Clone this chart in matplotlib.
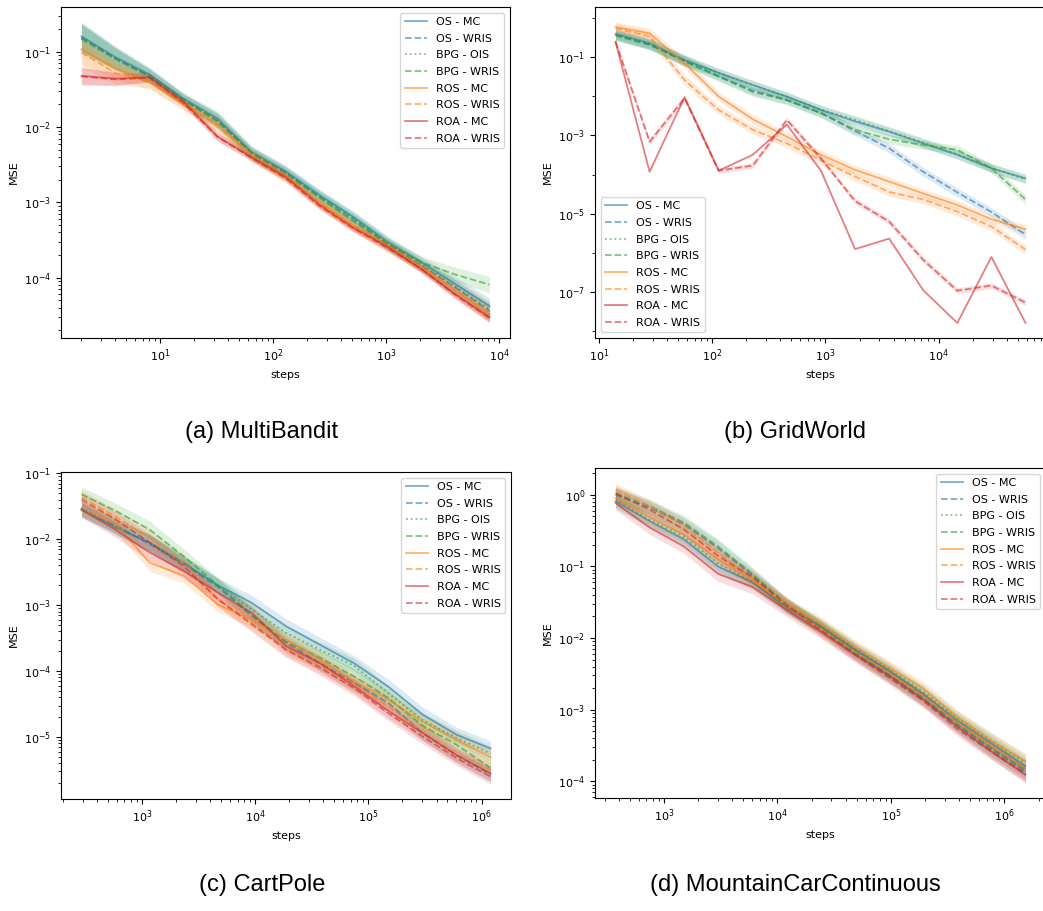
import numpy as np
import matplotlib
matplotlib.use("Agg")
import matplotlib.pyplot as plt
from matplotlib.ticker import LogLocator, FixedLocator, NullFormatter

plt.rcParams['font.size'] = 8
plt.rcParams['legend.labelspacing'] = 0.6

labels = ['OS - MC', 'OS - WRIS', 'BPG - OIS', 'BPG - WRIS',
          'ROS - MC', 'ROS - WRIS', 'ROA - MC', 'ROA - WRIS']
colors = ['tab:blue', 'tab:blue', 'tab:green', 'tab:green',
          'tab:orange', 'tab:orange', 'tab:red', 'tab:red']
styles = ['-', '--', ':', '--', '-', '--', '-', '--']

# (a) MultiBandit
steps_a = [2, 4, 8, 16, 32, 64, 128, 256, 512, 1024, 2048, 4096, 8192]
mse_a = [
    [0.16, 0.085, 0.05, 0.024, 0.013, 0.0047, 0.0026, 0.00125, 0.00064, 0.0003, 0.00016, 8.2e-5, 4.2e-5],
    [0.155, 0.082, 0.048, 0.023, 0.012, 0.0045, 0.0025, 0.0012, 0.0006, 0.00028, 0.000145, 7.4e-5, 3.6e-5],
    [0.15, 0.08, 0.047, 0.023, 0.0125, 0.0046, 0.0025, 0.0012, 0.00062, 0.00029, 0.00015, 7.6e-5, 3.8e-5],
    [0.148, 0.08, 0.047, 0.023, 0.012, 0.0044, 0.0024, 0.00115, 0.00056, 0.00028, 0.00016, 0.00011, 8.1e-5],
    [0.108, 0.06, 0.04, 0.021, 0.011, 0.0043, 0.0023, 0.001, 0.0005, 0.00027, 0.00014, 6.8e-5, 3.3e-5],
    [0.098, 0.052, 0.041, 0.02, 0.0105, 0.0042, 0.0022, 0.00097, 0.00048, 0.00026, 0.00014, 6.9e-5, 3.4e-5],
    [0.048, 0.044, 0.046, 0.022, 0.0075, 0.004, 0.0022, 0.00093, 0.00046, 0.00026, 0.00013, 6e-5, 3e-5],
    [0.047, 0.043, 0.045, 0.021, 0.0074, 0.0039, 0.0021, 0.0009, 0.00045, 0.00025, 0.00013, 5.9e-5, 2.9e-5],
]
band_a = [0.55, 0.4, 0.25, 0.2, 0.25, 0.2, 0.2, 0.2, 0.2, 0.2, 0.2, 0.25, 0.28]
scale_a = [1, 1, 1, 1, 1, 1, 0.55, 0.55]

# (b) GridWorld
steps_b = [14, 28, 57, 114, 228, 456, 912, 1825, 3650, 7300, 14600, 29200, 58400]
mse_b = [
    [0.4, 0.23, 0.085, 0.04, 0.0196, 0.0099, 0.0045, 0.0023, 0.00125, 0.00063, 0.00032, 0.000145, 8e-5],
    [0.37, 0.21, 0.08, 0.033, 0.014, 0.0082, 0.0038, 0.0013, 0.00047, 0.000118, 3.5e-5, 1.1e-5, 2.9e-6],
    [0.38, 0.22, 0.085, 0.04, 0.0195, 0.0098, 0.0046, 0.0025, 0.0013, 0.00066, 0.00033, 0.00015, 7.5e-5],
    [0.36, 0.21, 0.08, 0.032, 0.013, 0.008, 0.0037, 0.0014, 0.0008, 0.00057, 0.00043, 0.000145, 2.3e-5],
    [0.59, 0.41, 0.07, 0.0099, 0.0026, 0.00093, 0.00032, 0.000132, 6.6e-5, 3.3e-5, 1.66e-5, 7.2e-6, 4e-6],
    [0.55, 0.34, 0.026, 0.0045, 0.0014, 0.00063, 0.00023, 8.9e-5, 3.6e-5, 2.3e-5, 1.13e-5, 4.7e-6, 1.2e-6],
    [0.25, 0.000118, 0.0095, 0.000126, 0.00032, 0.0019, 0.000126, 1.24e-6, 2.3e-6, 1.1e-7, 1.6e-8, 7.8e-7, 1.6e-8],
    [0.25, 0.00069, 0.009, 0.000126, 0.00017, 0.0025, 0.00026, 2.1e-5, 6.3e-6, 6.6e-7, 1.07e-7, 1.45e-7, 5.3e-8],
]
band_b = [0.35, 0.35, 0.35, 0.3, 0.3, 0.3, 0.3, 0.3, 0.3, 0.3, 0.3, 0.3, 0.3]
scale_b = [1, 1, 1, 1, 1, 1, 0, 0.6]
yticks_b = [1e-1, 1e-3, 1e-5, 1e-7]

# (c) CartPole
steps_c = [293, 586, 1172, 2344, 4688, 9375, 18750, 37500, 75000, 150000, 300000, 600000, 1200000]
mse_c = [
    [0.029, 0.015, 0.0089, 0.0044, 0.002, 0.00108, 0.00048, 0.00025, 0.000131, 5.8e-5, 2.2e-5, 1.08e-5, 6.7e-6],
    [0.028, 0.016, 0.0085, 0.0042, 0.0019, 0.00068, 0.00027, 0.000131, 6.6e-5, 3.3e-5, 1.15e-5, 5.3e-6, 2.7e-6],
    [0.03, 0.016, 0.0088, 0.0043, 0.002, 0.00086, 0.00038, 0.00021, 0.00012, 4.6e-5, 1.8e-5, 9.7e-6, 5.6e-6],
    [0.048, 0.027, 0.014, 0.0055, 0.002, 0.00072, 0.00028, 0.000158, 8.3e-5, 3.9e-5, 1.5e-5, 7.6e-6, 3.4e-6],
    [0.028, 0.017, 0.0044, 0.0028, 0.00102, 0.0006, 0.0003, 0.000149, 7e-5, 3.7e-5, 1.7e-5, 9.1e-6, 4.9e-6],
    [0.043, 0.022, 0.0105, 0.0044, 0.00123, 0.00054, 0.00022, 0.000118, 6.3e-5, 2.9e-5, 1.2e-5, 5.6e-6, 3.2e-6],
    [0.028, 0.014, 0.0063, 0.0033, 0.00155, 0.00076, 0.00024, 0.000131, 5.9e-5, 2.5e-5, 1.15e-5, 5.3e-6, 2.8e-6],
    [0.04, 0.02, 0.0089, 0.0039, 0.00123, 0.00051, 0.00021, 0.000112, 5.5e-5, 2.3e-5, 1.02e-5, 4.8e-6, 2.5e-6],
]
band_c = [0.3, 0.3, 0.35, 0.3, 0.3, 0.3, 0.3, 0.3, 0.3, 0.3, 0.3, 0.3, 0.3]
scale_c = [1, 1, 1, 1, 1, 1, 1, 1]

# (d) MountainCarContinuous
steps_d = [375, 750, 1500, 3000, 6000, 12000, 24000, 48000, 96000, 192000, 384000, 768000, 1536000]
mse_d = [
    [0.81, 0.43, 0.24, 0.1, 0.06, 0.027, 0.0145, 0.0069, 0.0035, 0.00166, 0.00071, 0.00034, 0.000162],
    [1.0, 0.66, 0.39, 0.18, 0.075, 0.029, 0.014, 0.0062, 0.003, 0.0014, 0.0006, 0.00028, 0.000135],
    [0.85, 0.45, 0.26, 0.11, 0.062, 0.028, 0.015, 0.0072, 0.0037, 0.0018, 0.00077, 0.00037, 0.00018],
    [1.05, 0.69, 0.41, 0.19, 0.079, 0.03, 0.0145, 0.0065, 0.0031, 0.00148, 0.00063, 0.00029, 0.000145],
    [0.9, 0.48, 0.28, 0.127, 0.064, 0.03, 0.016, 0.0077, 0.0039, 0.002, 0.00079, 0.00037, 0.00019],
    [1.17, 0.69, 0.37, 0.157, 0.067, 0.029, 0.0137, 0.0065, 0.0033, 0.00157, 0.00068, 0.00032, 0.000154],
    [0.77, 0.35, 0.19, 0.079, 0.052, 0.025, 0.0124, 0.0059, 0.003, 0.0014, 0.00058, 0.00026, 0.000123],
    [1.05, 0.62, 0.33, 0.14, 0.071, 0.029, 0.013, 0.0059, 0.0028, 0.00134, 0.00054, 0.00026, 0.000127],
]
band_d = [0.25, 0.25, 0.25, 0.28, 0.25, 0.25, 0.25, 0.25, 0.25, 0.25, 0.25, 0.28, 0.3]
scale_d = [1, 1, 1, 1, 1, 1, 1, 1]

panels = [
    (steps_a, mse_a, band_a, scale_a, 'upper right', '(a) MultiBandit'),
    (steps_b, mse_b, band_b, scale_b, 'lower left', '(b) GridWorld'),
    (steps_c, mse_c, band_c, scale_c, 'upper right', '(c) CartPole'),
    (steps_d, mse_d, band_d, scale_d, 'upper right', '(d) MountainCarContinuous'),
]

W, H = 1043, 911
fig = plt.figure(figsize=(W / 100, H / 100), dpi=100)

# axes boxes in pixels: left, top, right, bottom
boxes = [(61, 7, 510, 338), (595, 7, 1046, 338),
         (61, 472, 511, 799), (595, 468, 1046, 798)]
caption_pos = [(262, 432), (795, 432), (262, 885), (795, 885)]

axes = []
for (steps, mse, band, scale, loc, title), box, cap in zip(panels, boxes, caption_pos):
    l, t, r, b = box
    ax = fig.add_axes([l / W, 1 - b / H, (r - l) / W, (b - t) / H])
    x = np.array(steps, dtype=float)
    band = np.array(band)
    for i in range(len(labels)):
        y = np.array(mse[i])
        s = band * scale[i]
        if scale[i] > 0:
            ax.fill_between(x, y / (1 + s), y * (1 + s), color=colors[i],
                            alpha=0.15, linewidth=0)
        ax.plot(x, y, color=colors[i], linestyle=styles[i], alpha=0.6,
                linewidth=1.3, label=labels[i])
    ax.set_xscale('log')
    ax.set_yscale('log')
    ax.set_xlabel('steps')
    ax.set_ylabel('MSE')
    ax.legend(loc=loc)
    fig.text(cap[0] / W, 1 - cap[1] / H, title, ha='center', va='center',
             fontsize=17, family='Liberation Sans')
    axes.append(ax)

# GridWorld: label every second decade only
axes[1].yaxis.set_major_locator(FixedLocator(yticks_b))
axes[1].yaxis.set_minor_locator(LogLocator(base=10, subs=(1.0,), numticks=20))
axes[1].yaxis.set_minor_formatter(NullFormatter())

fig.savefig('out.png', dpi=100)
